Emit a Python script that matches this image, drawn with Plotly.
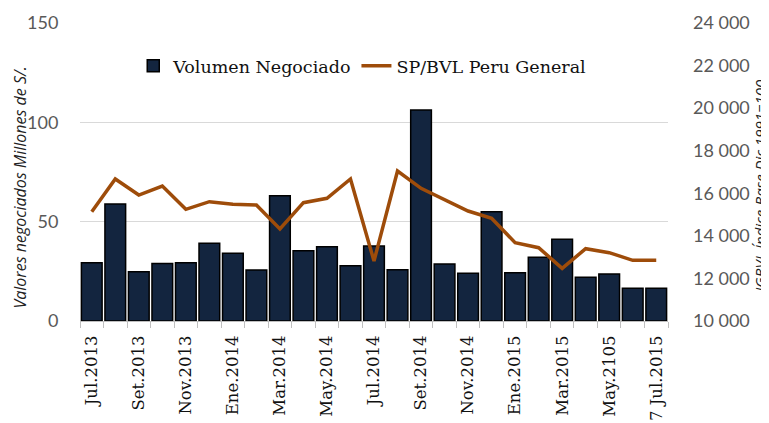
import plotly.graph_objects as go

categories = ["Jul.2013", "Ago.2013", "Set.2013", "Oct.2013", "Nov.2013", "Dic.2013",
              "Ene.2014", "Feb.2014", "Mar.2014", "Abr.2014", "May.2014", "Jun.2014",
              "Jul.2014", "Ago.2014", "Set.2014", "Oct.2014", "Nov.2014", "Dic.2014",
              "Ene.2015", "Feb.2015", "Mar.2015", "Abr.2015", "May.2105", "Jun.2015",
              "7 Jul.2015"]
volumen = [29.3, 58.9, 24.8, 29.0, 29.3, 39.1, 34.1, 25.7, 63.1, 35.4, 37.4, 27.8,
           37.7, 25.8, 106.2, 28.7, 24.0, 55.0, 24.3, 32.1, 41.1, 22.0, 23.7, 16.5, 16.5]
igbvl = [15135, 16671, 15919, 16342, 15247, 15606, 15481, 15450, 14322, 15559, 15763, 16671,
         12819, 17047, 16234, 15685, 15168, 14824, 13680, 13444, 12474, 13398, 13210, 12850, 12850]
tick_text = [c if i % 2 == 0 else "" for i, c in enumerate(categories)]
left_title = "Valores negociados Millones de S/."
right_title = "IGBVL Índice Base Dic.1991=100"

serif = "DejaVu Serif"
sans = "Lato"

fig = go.Figure()
fig.add_trace(go.Bar(
    x=categories, y=volumen, name="Volumen Negociado",
    marker=dict(color="#13253F", line=dict(color="#000000", width=1.5)),
))
fig.add_trace(go.Scatter(
    x=categories, y=igbvl, name="SP/BVL Peru General", yaxis="y2",
    mode="lines", line=dict(color="#9E4C0A", width=3.5),
))

# page body adds an 8px offset; size/margins compensate so the plot area lands at x 80-668, y 23-321
fig.update_layout(
    width=761, height=415,
    margin=dict(l=72, r=101, t=15, b=102),
    paper_bgcolor="white", plot_bgcolor="white",
    bargap=0.12,
    separators=". ",
    showlegend=True,
    legend=dict(orientation="h", x=0.48, y=0.856, xanchor="center", yanchor="middle",
                font=dict(family=serif, size=17.5, color="#111111"),
                bgcolor="rgba(0,0,0,0)"),
    xaxis=dict(
        type="category", tickmode="array", tickvals=categories, ticktext=tick_text,
        tickangle=-90, tickson="boundaries", ticks="outside", ticklen=6,
        tickcolor="#BFBFBF", showline=True, linecolor="#BFBFBF", linewidth=1,
        tickfont=dict(family=serif, size=16.5, color="#111111"),
        ticklabelstandoff=7,
        showgrid=False, automargin=False,
    ),
    yaxis=dict(
        range=[0, 150], dtick=50, showgrid=True, gridcolor="#D9D9D9", gridwidth=1,
        zeroline=False, tickfont=dict(family=sans, size=18, color="#595959"),
        ticks="outside", ticklen=17, tickcolor="rgba(0,0,0,0)", automargin=False,
    ),
    yaxis2=dict(
        range=[10000, 24000], dtick=2000, overlaying="y", side="right",
        showgrid=False, zeroline=False, tickformat=",d", automargin=False,
        tickfont=dict(family=sans, size=18, color="#595959"),
        ticklabelstandoff=24,
    ),
    annotations=[
        dict(text="<i>" + left_title + "</i>", xref="paper", yref="paper",
             x=-0.102, y=0.448, xanchor="center", yanchor="middle", textangle=-90,
             showarrow=False, font=dict(family="Open Sans", size=16, color="#222222")),
        dict(text="<i>" + right_title + "</i>", xref="paper", yref="paper",
             x=1.156, y=0.453, xanchor="center", yanchor="middle", textangle=-90,
             showarrow=False, font=dict(family="Open Sans", size=15, color="#222222")),
    ],
)

fig.write_html("out.html")
